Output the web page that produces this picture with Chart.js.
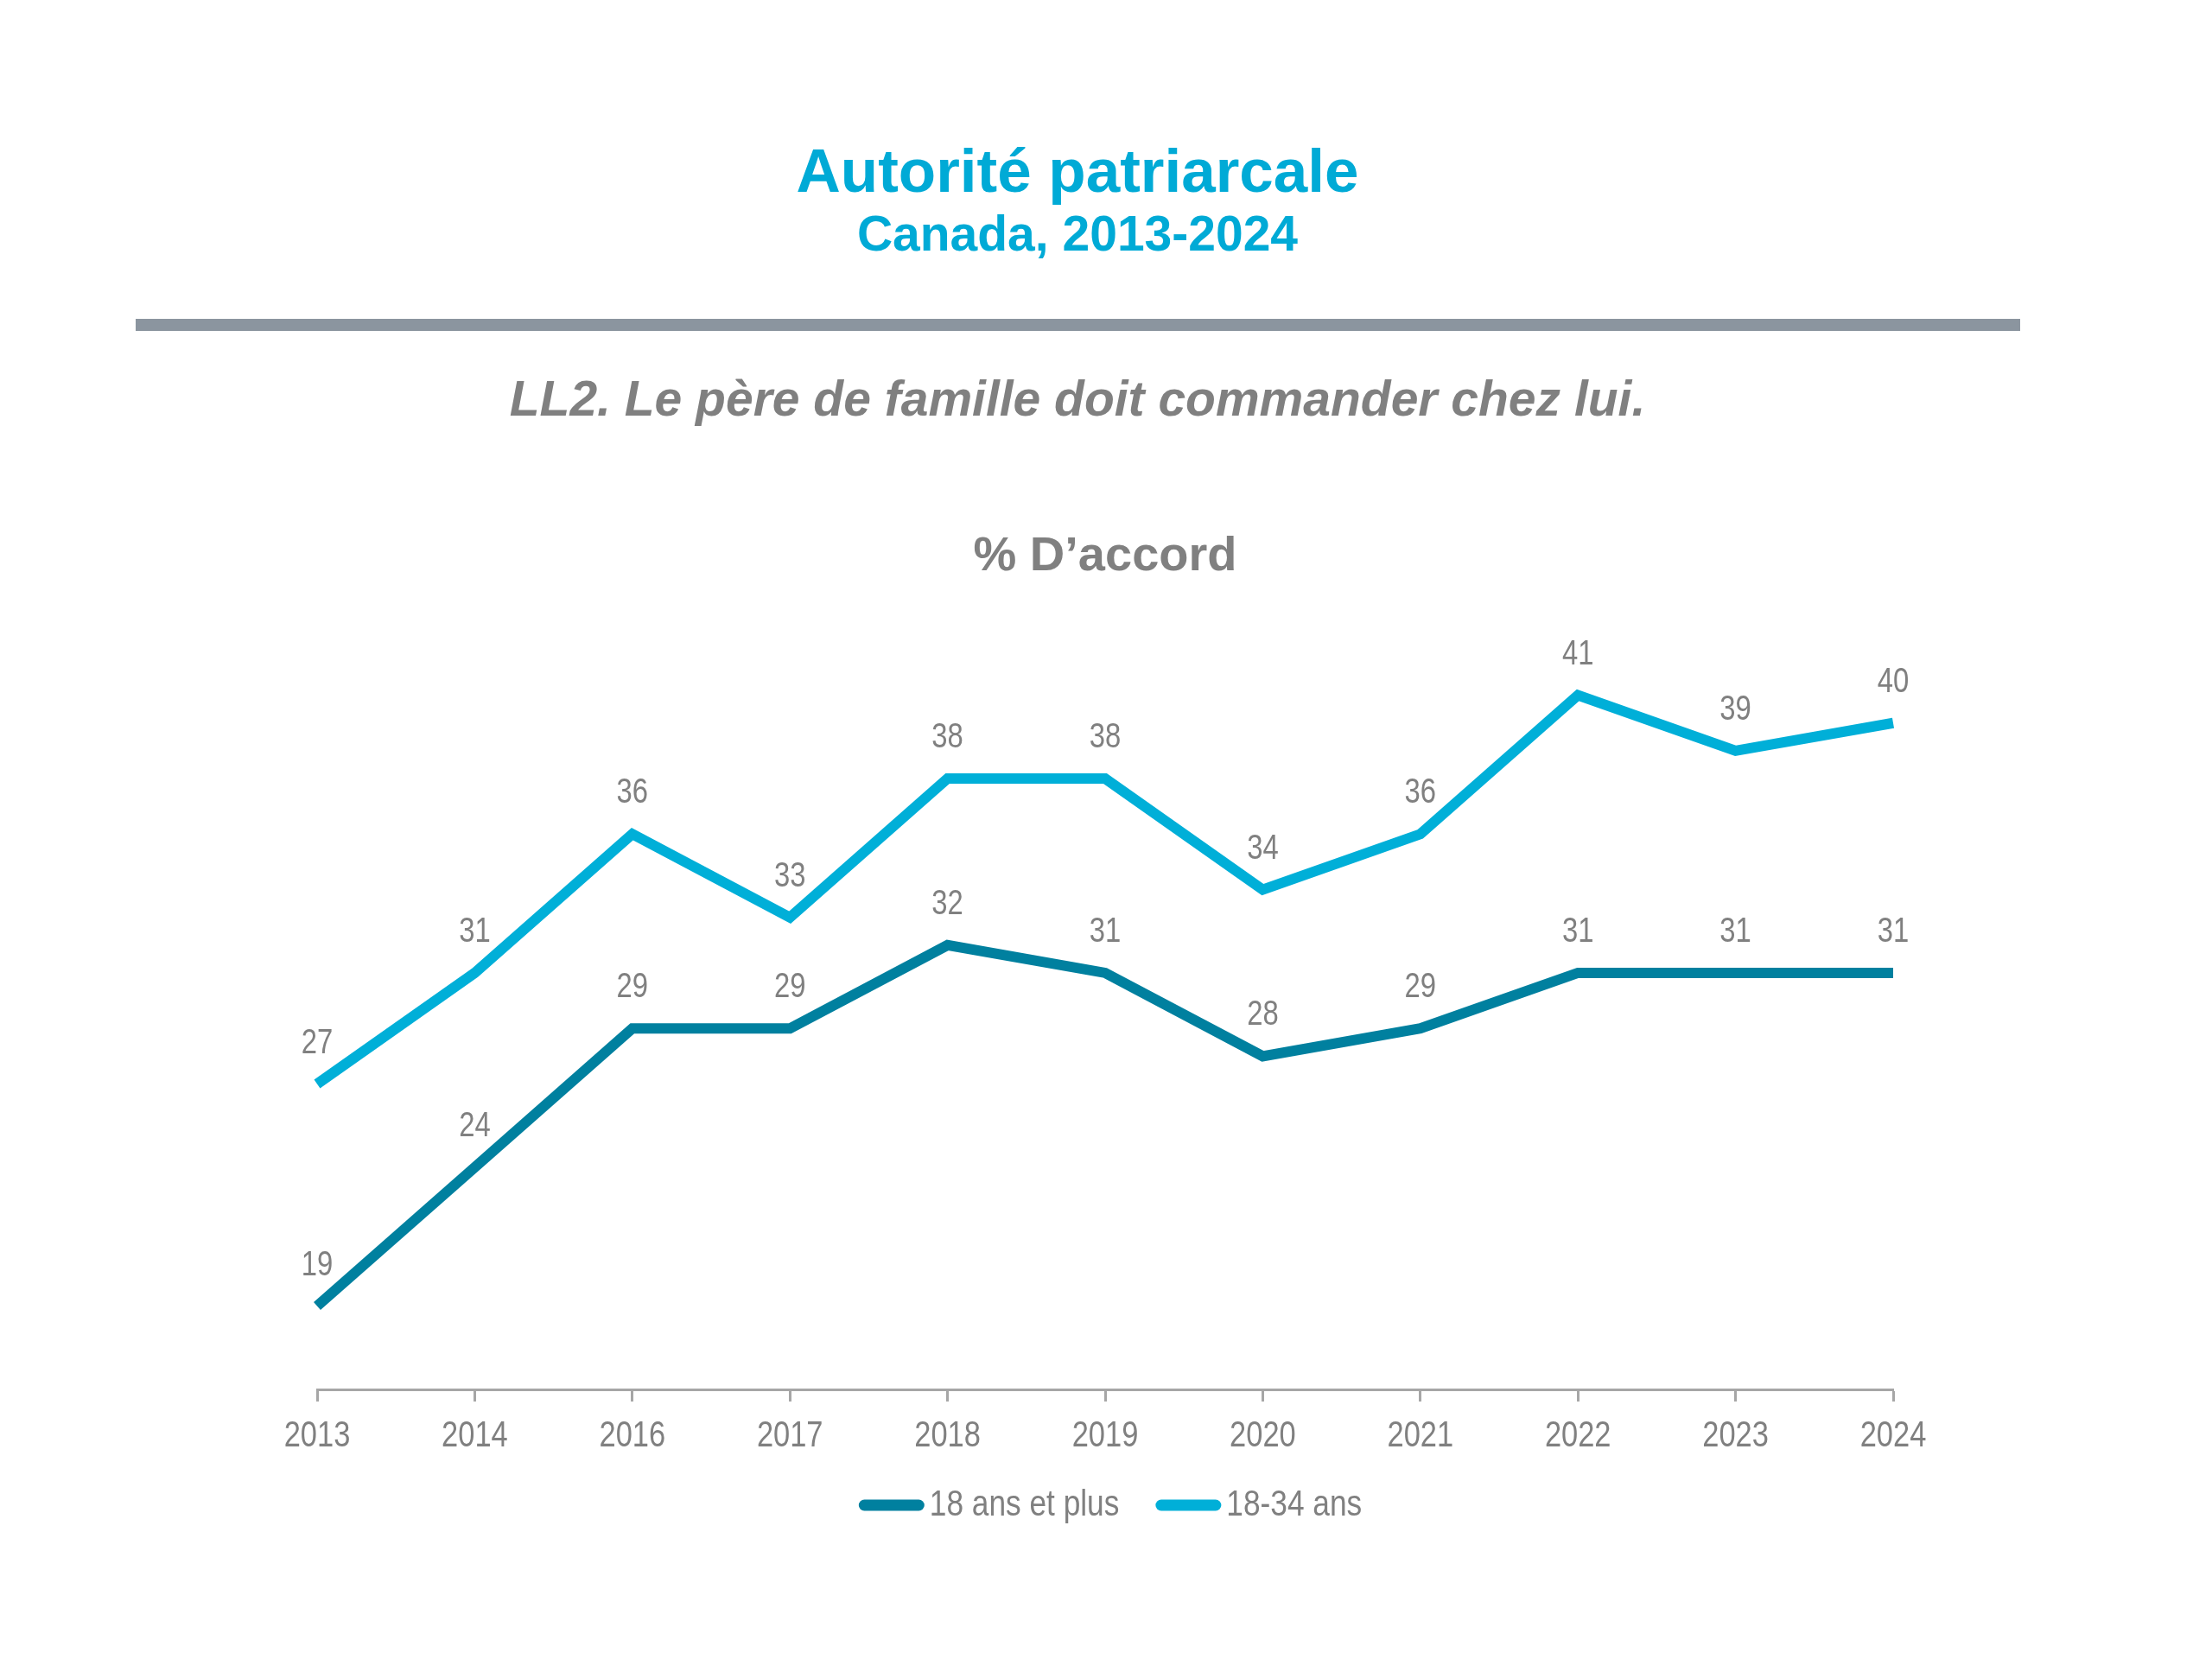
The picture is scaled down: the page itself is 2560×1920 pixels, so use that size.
<!DOCTYPE html>
<html>
<head>
<meta charset="utf-8">
<script src="https://cdn.jsdelivr.net/npm/chart.js@4"></script>
<style>
  html, body { margin: 0; padding: 0; background: #fff; }
  body { width: 2560px; height: 1920px; position: relative; overflow: hidden; font-family: "Liberation Sans", Arial, sans-serif; }
  .hd { position: absolute; left: 0; width: 2494px; text-align: center; line-height: 1; white-space: nowrap; }
  #title { top: 162px; font-size: 71px; font-weight: bold; color: #00aad6; }
  #sub { top: 242px; font-size: 57px; font-weight: bold; color: #00aad6; }
  #rule { position: absolute; left: 157px; top: 369px; width: 2181px; height: 14px; background: #8b959f; }
  #question { top: 433px; font-size: 57px; font-weight: bold; font-style: italic; color: #808080; }
  #chart { position: absolute; left: 0; top: 0; }
</style>
</head>
<body>
<div class="hd" id="title">Autorité patriarcale</div>
<div class="hd" id="sub">Canada, 2013-2024</div>
<div id="rule"></div>
<div class="hd" id="question">LL2. Le père de famille doit commander chez lui.</div>
<canvas id="chart" width="2560" height="1920"></canvas>
<script>
const years = ['2013', '2014', '2016', '2017', '2018', '2019', '2020', '2021', '2022', '2023', '2024'];
const tous = [19, 24, 29, 29, 32, 31, 28, 29, 31, 31, 31];      // 18 ans et plus
const jeunes = [27, 31, 36, 33, 38, 38, 34, 36, 41, 39, 40];    // 18-34 ans

const gray = '#808080';
const squeeze = 0.82; // reference uses a narrow sans, we squash Liberation Sans

function narrowText(ctx, text, x, y, size, align) {
  ctx.save();
  ctx.translate(x, y);
  ctx.scale(squeeze, 1);
  ctx.font = size + 'px "Liberation Sans", Arial, sans-serif';
  ctx.fillStyle = gray;
  ctx.textAlign = align || 'center';
  ctx.textBaseline = 'middle';
  ctx.fillText(text, 0, 0);
  ctx.restore();
}

// value labels, x tick labels and the legend in narrow type
const narrowPlugin = {
  id: 'narrowPlugin',
  afterDatasetsDraw(chart) {
    const ctx = chart.ctx;
    chart.data.datasets.forEach((ds, i) => {
      chart.getDatasetMeta(i).data.forEach((pt, j) => {
        narrowText(ctx, String(ds.data[j]), pt.x, pt.y - 47, 40);
      });
    });
  },
  afterDraw(chart) {
    const ctx = chart.ctx;
    const xs = chart.scales.x;
    const bottom = chart.chartArea.bottom;
    xs.ticks.forEach((t, i) => {
      narrowText(ctx, xs.getLabelForValue(t.value), xs.getPixelForTick(i), bottom + 54, 42);
    });

    // legend
    const markW = 76, gap = 6, itemGap = 42, size = 43;
    ctx.save();
    ctx.font = size + 'px "Liberation Sans", Arial, sans-serif';
    const items = chart.data.datasets.map(ds => ({
      text: ds.label,
      color: ds.borderColor,
      w: ctx.measureText(ds.label).width * squeeze
    }));
    ctx.restore();
    let total = 0;
    items.forEach((it, i) => { total += markW + gap + it.w + (i ? itemGap : 0); });
    let x = (chart.chartArea.left + chart.chartArea.right) / 2 + 6 - total / 2;
    const y = bottom + 134;
    items.forEach(it => {
      ctx.save();
      ctx.strokeStyle = it.color;
      ctx.lineWidth = 13;
      ctx.lineCap = 'round';
      ctx.beginPath();
      ctx.moveTo(x + 6.5, y);
      ctx.lineTo(x + markW - 6.5, y);
      ctx.stroke();
      ctx.restore();
      narrowText(ctx, it.text, x + markW + gap, y, size, 'left');
      x += markW + gap + it.w + itemGap;
    });
  }
};

const ctx = document.getElementById('chart').getContext('2d');
const chart = new Chart(ctx, {
  type: 'line',
  data: {
    labels: years,
    datasets: [
      {
        label: '18 ans et plus',
        data: tous,
        borderColor: '#00809f',
        backgroundColor: '#00809f',
        borderWidth: 12,
        pointRadius: 0,
        tension: 0
      },
      {
        label: '18-34 ans',
        data: jeunes,
        borderColor: '#00afd8',
        backgroundColor: '#00afd8',
        borderWidth: 12,
        pointRadius: 0,
        tension: 0
      }
    ]
  },
  options: {
    responsive: false,
    animation: false,
    devicePixelRatio: 1,
    layout: {
      padding: { left: 367, right: 369, top: 611, bottom: 298 }
    },
    plugins: {
      title: {
        display: true,
        text: '% D\u2019accord',
        color: gray,
        font: { family: '"Liberation Sans", Arial, sans-serif', size: 56, weight: 'bold', lineHeight: 1.2 },
        padding: { top: 0, bottom: 30 }
      },
      legend: { display: false },
      tooltip: { enabled: false }
    },
    scales: {
      x: {
        offset: false,
        grid: { drawOnChartArea: false, drawTicks: true, tickLength: 14, tickWidth: 3, tickColor: '#a6a6a6' },
        border: { display: true, color: '#a6a6a6', width: 3 },
        ticks: { display: false }
      },
      y: {
        display: false,
        min: 16,
        max: 44
      }
    }
  },
  plugins: [narrowPlugin]
});
</script>
</body>
</html>
